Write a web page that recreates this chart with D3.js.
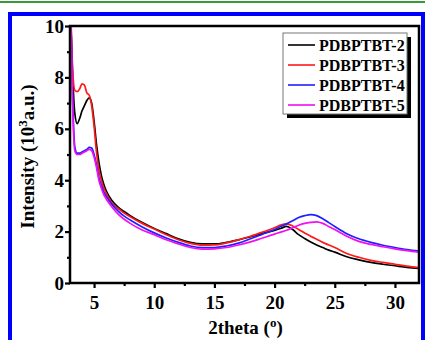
<!DOCTYPE html>
<html><head><meta charset="utf-8">
<script src="https://cdn.jsdelivr.net/npm/d3@7"></script>
<style>
html,body{margin:0;padding:0;background:#fff;}
svg{display:block;}
text{font-family:"Liberation Serif","Times New Roman",serif;font-weight:bold;fill:#000;}
</style></head><body>
<script>
const twoTheta = [3.0,3.2,3.4,3.6,3.8,4.0,4.2,4.4,4.6,4.8,5.0,5.2,5.4,5.6,5.8,6.0,6.5,7,7.5,8,9,10,11,12,13,14,15,16,17,18,19,20,20.5,21,21.5,22,22.5,23,23.5,24,24.5,25,26,27,28,29,30,31,32];
const pdbptbt2 = [11.0,8.3,6.6,6.2,6.4,6.7,6.9,7.1,7.2,7.0,6.3,5.4,4.7,4.2,3.85,3.6,3.2,2.95,2.78,2.62,2.35,2.12,1.92,1.72,1.58,1.52,1.52,1.58,1.68,1.8,1.93,2.05,2.12,2.2,2.08,1.88,1.73,1.6,1.48,1.38,1.28,1.2,1.02,0.9,0.8,0.73,0.67,0.61,0.57];
const pdbptbt3 = [12,8.5,7.5,7.45,7.55,7.75,7.7,7.4,7.3,6.9,6.1,5.1,4.4,4.0,3.7,3.5,3.1,2.9,2.72,2.58,2.32,2.1,1.88,1.68,1.54,1.47,1.48,1.56,1.68,1.82,1.98,2.15,2.25,2.3,2.22,2.08,1.95,1.82,1.7,1.58,1.48,1.38,1.15,1.0,0.88,0.8,0.73,0.66,0.6];
const pdbptbt4 = [12,7.5,5.3,5.05,5.05,5.1,5.15,5.2,5.28,5.25,5.0,4.6,4.1,3.8,3.55,3.38,3.05,2.8,2.6,2.45,2.18,1.95,1.75,1.58,1.44,1.38,1.38,1.44,1.55,1.72,1.9,2.08,2.2,2.3,2.42,2.55,2.62,2.66,2.62,2.5,2.35,2.2,1.92,1.72,1.58,1.47,1.38,1.3,1.24];
const pdbptbt5 = [12,7.2,5.15,5.0,5.0,5.05,5.1,5.15,5.2,5.15,4.9,4.5,4.0,3.7,3.45,3.28,2.95,2.68,2.48,2.32,2.06,1.88,1.68,1.52,1.38,1.32,1.33,1.38,1.48,1.6,1.75,1.9,1.98,2.05,2.15,2.25,2.32,2.36,2.38,2.32,2.2,2.08,1.82,1.62,1.5,1.41,1.33,1.26,1.2];
const seriesNames = ["PDBPTBT-2","PDBPTBT-3","PDBPTBT-4","PDBPTBT-5"];
const seriesColors = ["#000000","#ff1a1a","#2020ff","#f010f0"];
const xMajorTicks = [5,10,15,20,25,30];
const xMinorTicks = [7.5,12.5,17.5,22.5,27.5];
const yMajorTicks = [0,2,4,6,8,10];
const yMinorTicks = [1,3,5,7,9];

const W=425,H=340;
const svg=d3.select("body").append("svg").attr("width",W).attr("height",H);
svg.append("rect").attr("width",W).attr("height",H).attr("fill","#fff");
// green top rule
svg.append("rect").attr("x",0).attr("y",1).attr("width",W).attr("height",2).attr("fill","#3a9a3a");
// blue frame
svg.append("rect").attr("x",10).attr("y",14).attr("width",413).attr("height",340)
  .attr("fill","#fff").attr("stroke","#0000ff").attr("stroke-width",4);

const L=70,R=419,T=26,B=283;
const x=d3.scaleLinear().domain([3,32]).range([L,R]);
const y=d3.scaleLinear().domain([0,10]).range([B,T]);

svg.append("clipPath").attr("id","c").append("rect")
  .attr("x",L).attr("y",T).attr("width",R-L).attr("height",B-T);

const allSeries=[pdbptbt2,pdbptbt3,pdbptbt4,pdbptbt5];
const line=d3.line().x(d=>x(d[0])).y(d=>y(d[1])).curve(d3.curveMonotoneX);
const g=svg.append("g").attr("clip-path","url(#c)");
allSeries.forEach((s,i)=>{
  g.append("path").datum(twoTheta.map((t,j)=>[t,s[j]]))
    .attr("d",line).attr("fill","none").attr("stroke",seriesColors[i]).attr("stroke-width",1.7);
});

function styleAxis(sel){
  sel.select(".domain").remove();
  sel.selectAll("line").attr("stroke","#000").attr("stroke-width",2.2);
  sel.selectAll("text").style("font-size","19px").style("font-family","'Liberation Serif','Times New Roman',serif").style("font-weight","bold");
}
svg.append("g").attr("transform",`translate(0,${B})`)
  .call(d3.axisBottom(x).tickValues(xMajorTicks).tickSize(5).tickPadding(8).tickFormat(d3.format("d")))
  .call(styleAxis);
svg.append("g").attr("transform",`translate(0,${B})`)
  .call(d3.axisBottom(x).tickValues(xMinorTicks).tickSize(3).tickFormat(""))
  .call(styleAxis);
svg.append("g").attr("transform",`translate(${L},0)`)
  .call(d3.axisLeft(y).tickValues(yMajorTicks).tickSize(5).tickPadding(1).tickFormat(d3.format("d")))
  .call(styleAxis);
svg.append("g").attr("transform",`translate(${L},0)`)
  .call(d3.axisLeft(y).tickValues(yMinorTicks).tickSize(3).tickFormat(""))
  .call(styleAxis);

svg.append("rect").attr("x",L).attr("y",T).attr("width",R-L).attr("height",B-T)
  .attr("fill","none").attr("stroke","#000").attr("stroke-width",2.5);

const xt=svg.append("text").attr("x",(L+R)/2+1).attr("y",334).attr("text-anchor","middle").style("font-size","19px");
xt.append("tspan").text("2theta (");
xt.append("tspan").text("o").attr("dy",-7).style("font-size","13px");
xt.append("tspan").text(")").attr("dy",7);

const yt=svg.append("text").attr("transform",`translate(34,${(T+B)/2+2}) rotate(-90)`).attr("text-anchor","middle").style("font-size","19px");
yt.append("tspan").text("Intensity (10");
yt.append("tspan").text("3").attr("dy",-7).style("font-size","13px");
yt.append("tspan").text("a.u.)").attr("dy",7);

const lx=283,ly=33,lw=124,lh=81;
svg.append("rect").attr("x",lx+4).attr("y",ly+4).attr("width",lw).attr("height",lh).attr("fill","#000");
svg.append("rect").attr("x",lx).attr("y",ly).attr("width",lw).attr("height",lh).attr("fill","#fff").attr("stroke","#777").attr("stroke-width",1);
seriesNames.forEach((n,i)=>{
  const cy=ly+12+i*20;
  svg.append("line").attr("x1",lx+5).attr("x2",lx+32).attr("y1",cy).attr("y2",cy)
    .attr("stroke",seriesColors[i]).attr("stroke-width",1.6);
  svg.append("text").attr("x",lx+36).attr("y",cy).attr("dy","0.35em").style("font-size","16px").text(n);
});
</script>
</body></html>
